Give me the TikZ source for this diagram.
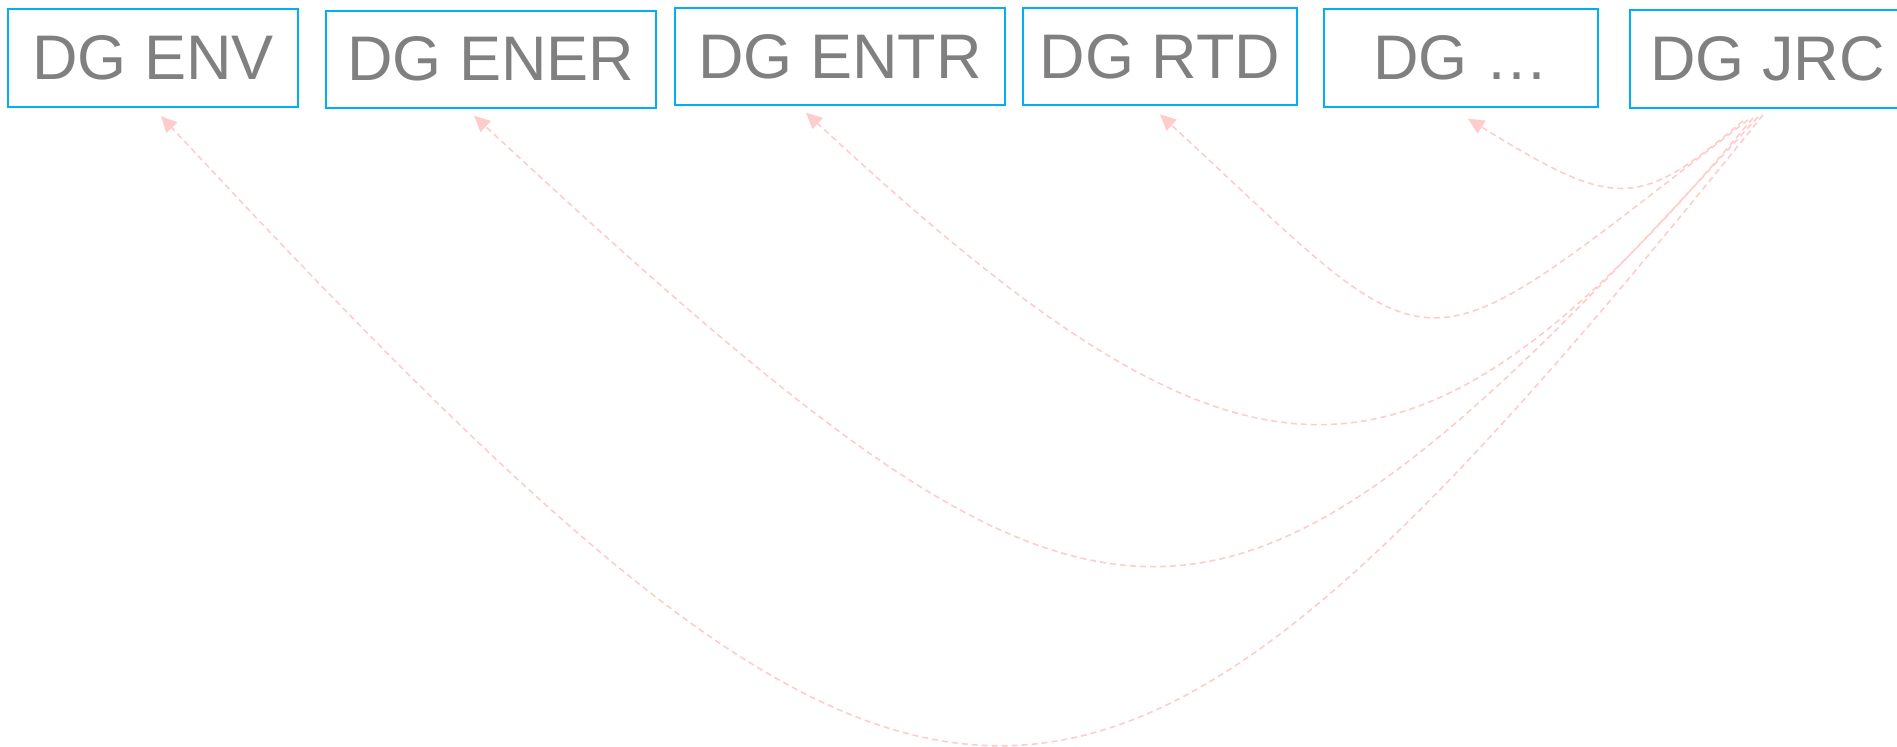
\documentclass[tikz,border=0pt]{standalone}
\usepackage{fontspec}
\setmainfont{Liberation Sans}
\usetikzlibrary{arrows.meta,calc}
\definecolor{boxblue}{HTML}{00B0F0}
\definecolor{txtgray}{HTML}{808080}
\definecolor{linkpink}{HTML}{FFCCCC}
\begin{document}
\begin{tikzpicture}[x=0.5pt,y=-0.5pt,
  dgbox/.style={draw=boxblue, line width=1pt, inner sep=0pt, text=txtgray,
    font=\fontsize{31.5pt}{38pt}\selectfont, minimum height=48.7pt},
  link/.style={draw=linkpink, line width=0.8pt, dash pattern=on 3pt off 2pt,
    -{Triangle[length=8pt,width=7.5pt,fill=linkpink]}}]
\useasboundingbox (0,0) rectangle (1897,747);
\node[dgbox, minimum width=145pt]   (env)  at (153,58)     {DG ENV};
\node[dgbox, minimum width=165pt]   (ener) at (491,59.3)   {DG ENER};
\node[dgbox, minimum width=164.7pt] (entr) at (840,56.7)   {DG ENTR};
\node[dgbox, minimum width=137pt]   (rtd)  at (1160,56.7)  {DG RTD};
\node[dgbox, minimum width=137pt]   (dots) at (1461,58)    {DG …};
\node[dgbox, minimum width=137.5pt] (jrc)  at (1767.5,59.2){DG JRC};
% arrow tips
\coordinate (tenv)  at ([shift={(8,8.3)}]env.south);
\coordinate (tener) at ([shift={(-17,6.7)}]ener.south);
\coordinate (tentr) at ([shift={(-34,6.3)}]entr.south);
\coordinate (trtd)  at ([shift={(0,8)}]rtd.south);
\coordinate (tdots) at ([shift={(7,11)}]dots.south);
% start points
\coordinate (sdots) at ([shift={(114,12)}]jrc.south west);
\coordinate (srtd)  at ([shift={(119,11)}]jrc.south west);
\coordinate (sentr) at ([shift={(124,9)}]jrc.south west);
\coordinate (sener) at ([shift={(129,8)}]jrc.south west);
\coordinate (senv)  at ([shift={(134,6)}]jrc.south west);
\draw[link] (senv)  .. controls (1088,954) and (940,954)  .. (tenv);
\draw[link] (sener) .. controls (1213,715) and (1120,715) .. (tener);
\draw[link] (sentr) .. controls (1412,526) and (1251,526) .. (tentr);
\draw[link] (srtd)  .. controls (1405,383) and (1450,383) .. (trtd);
\draw[link] (sdots) .. controls (1638,210) and (1616,210) .. (tdots);
\end{tikzpicture}
\end{document}
